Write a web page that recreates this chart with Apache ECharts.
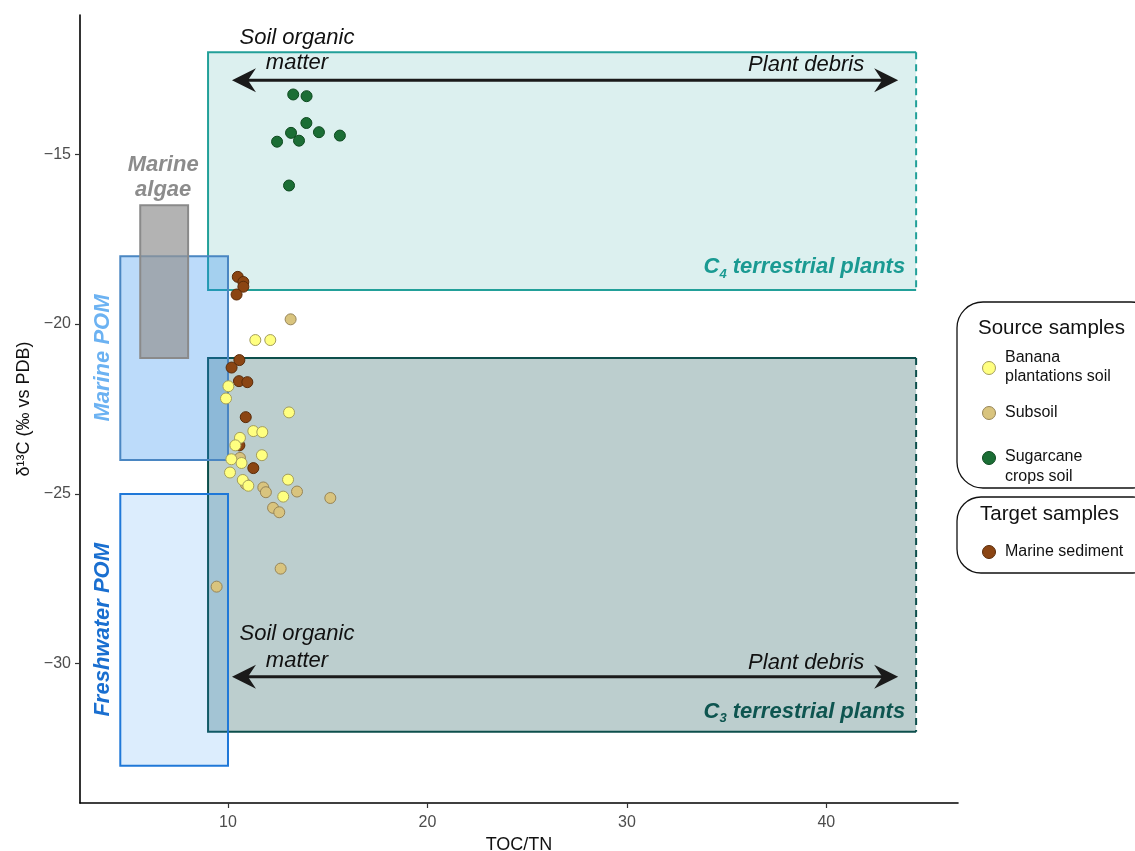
<!DOCTYPE html>
<html>
<head>
<meta charset="utf-8">
<script src="https://cdn.jsdelivr.net/npm/echarts@6/dist/echarts.min.js"></script>
<style>
html,body{margin:0;padding:0;background:#fff;}
#chart{width:1135px;height:851px;}
</style>
</head>
<body>
<div id="chart"></div>
<script>
// ---------- data ----------
const xTicks = [10, 20, 30, 40];
const yTicks = [-30, -25, -20, -15];

const bananaX = [11.37, 12.12, 10.02, 9.90, 13.06, 11.27, 11.72, 10.60, 10.37, 11.70, 10.17, 10.68, 10.10, 10.74, 11.02, 13.01, 12.77];
const bananaY = [-20.47, -20.47, -21.83, -22.19, -22.60, -23.15, -23.18, -23.35, -23.57, -23.86, -23.98, -24.09, -24.37, -24.59, -24.76, -24.58, -25.08];

const subsoilX = [13.14, 10.60, 10.89, 11.77, 11.90, 13.46, 15.13, 12.26, 12.57, 12.64, 9.43];
const subsoilY = [-19.86, -23.94, -24.71, -24.81, -24.95, -24.93, -25.12, -25.41, -25.54, -27.20, -27.73];

const sugarX = [13.27, 13.94, 13.93, 13.16, 14.56, 15.61, 12.46, 13.56, 13.06];
const sugarY = [-13.24, -13.29, -14.08, -14.37, -14.35, -14.45, -14.63, -14.60, -15.92];

const marineX = [10.49, 10.77, 10.77, 10.43, 10.57, 10.18, 10.55, 10.97, 10.89, 10.57, 11.27];
const marineY = [-18.61, -18.76, -18.90, -19.13, -21.06, -21.28, -21.68, -21.71, -22.74, -23.57, -24.24];

// source regions (TOC/TN range, d13C range)
const regionNames = ['C4 terrestrial plants', 'C3 terrestrial plants', 'Marine POM', 'Freshwater POM', 'Marine algae'];
const regionX0 = [9, 9, 4.6, 4.6, 5.6];
const regionX1 = [44.5, 44.5, 10, 10, 8];
const regionYLow = [-19, -32, -24, -33, -21];
const regionYHigh = [-12, -21, -18, -25, -16.5];

// continuum arrows (Soil organic matter -> Plant debris)
const arrowX0 = [10.2, 10.2];
const arrowX1 = [43.6, 43.6];
const arrowY = [-12.82, -30.38];

// annotation texts and their anchor values
const noteText = ['Soil organic', 'matter', 'Plant debris', 'Soil organic', 'matter', 'Plant debris',
  'Marine', 'algae', 'Marine POM', 'Freshwater POM', 'C4 terrestrial plants', 'C3 terrestrial plants'];
const noteX = [13.46, 13.46, 41.9, 13.46, 13.46, 41.9, 6.75, 6.75, 3.75, 3.75, 43.95, 43.95];
const noteY = [-11.56, -12.32, -12.38, -29.12, -29.91, -29.97, -15.32, -16.06, -21, -29, -18.32, -31.41];

// ---------- styles ----------
const regionStyles = [
  {fill: 'rgba(38,160,155,0.16)', stroke: '#22a099', dashedRight: true},
  {fill: 'rgba(15,80,80,0.28)', stroke: '#0d4f4c', dashedRight: true},
  {fill: 'rgba(40,140,240,0.31)', stroke: '#4a86c2', dashedRight: false},
  {fill: 'rgba(40,140,240,0.16)', stroke: '#1f78d8', dashedRight: false},
  {fill: 'rgba(150,150,150,0.72)', stroke: '#8a8a8a', dashedRight: false}
];
const FONT = '"Liberation Sans", Arial, Helvetica, sans-serif';
const noteStyles = [
  {color: '#111', align: 'center', weight: 'normal', rot: 0},
  {color: '#111', align: 'center', weight: 'normal', rot: 0},
  {color: '#111', align: 'right', weight: 'normal', rot: 0},
  {color: '#111', align: 'center', weight: 'normal', rot: 0},
  {color: '#111', align: 'center', weight: 'normal', rot: 0},
  {color: '#111', align: 'right', weight: 'normal', rot: 0},
  {color: '#8c8c8c', align: 'center', weight: 'bold', rot: 0},
  {color: '#8c8c8c', align: 'center', weight: 'bold', rot: 0},
  {color: '#6cb2f2', align: 'center', weight: 'bold', rot: Math.PI / 2},
  {color: '#1a6fd0', align: 'center', weight: 'bold', rot: Math.PI / 2},
  {color: '#1a9a92', align: 'right', weight: 'bold', rot: 0, sub: '4'},
  {color: '#0e5550', align: 'right', weight: 'bold', rot: 0, sub: '3'}
];

function renderRegion(params, api) {
  const i = api.value(4);
  const st = regionStyles[i];
  const tl = api.coord([api.value(0), api.value(3)]);
  const br = api.coord([api.value(1), api.value(2)]);
  const children = [{
    type: 'rect',
    shape: {x: tl[0], y: tl[1], width: br[0] - tl[0], height: br[1] - tl[1]},
    style: {fill: st.fill}
  }];
  if (st.dashedRight) {
    children.push({type: 'polyline', shape: {points: [[br[0], tl[1]], [tl[0], tl[1]], [tl[0], br[1]], [br[0], br[1]]]},
      style: {stroke: st.stroke, lineWidth: 2, fill: null}});
    children.push({type: 'line', shape: {x1: br[0], y1: tl[1], x2: br[0], y2: br[1]},
      style: {stroke: st.stroke, lineWidth: 2, lineDash: [7, 5]}});
  } else {
    children.push({type: 'rect', shape: {x: tl[0], y: tl[1], width: br[0] - tl[0], height: br[1] - tl[1]},
      style: {fill: null, stroke: st.stroke, lineWidth: 2}});
  }
  return {type: 'group', children: children};
}

function renderArrow(params, api) {
  const a = api.coord([api.value(0), api.value(2)]);
  const b = api.coord([api.value(1), api.value(2)]);
  const y = a[1];
  const L = 24, W = 12, N = 16;
  return {type: 'group', children: [
    {type: 'line', shape: {x1: a[0] + 10, y1: y, x2: b[0] - 10, y2: y}, style: {stroke: '#1a1a1a', lineWidth: 3}},
    {type: 'polygon', shape: {points: [[a[0], y], [a[0] + L, y - W], [a[0] + N, y], [a[0] + L, y + W]]}, style: {fill: '#1a1a1a'}},
    {type: 'polygon', shape: {points: [[b[0], y], [b[0] - L, y - W], [b[0] - N, y], [b[0] - L, y + W]]}, style: {fill: '#1a1a1a'}}
  ]};
}

function renderNote(params, api) {
  const i = api.value(2);
  const st = noteStyles[i];
  const p = api.coord([api.value(0), api.value(1)]);
  const style = {
    fill: st.color, align: st.align, verticalAlign: 'middle',
    fontFamily: FONT, fontStyle: 'italic', fontWeight: st.weight, fontSize: 22
  };
  if (st.sub) {
    style.text = '{m|C}{s|' + st.sub + '}{m| terrestrial plants}';
    style.rich = {
      m: {fontFamily: FONT, fontStyle: 'italic', fontWeight: 'bold', fontSize: 22, fill: st.color, lineHeight: 30, verticalAlign: 'middle'},
      s: {fontFamily: FONT, fontStyle: 'italic', fontWeight: 'bold', fontSize: 13, fill: st.color, lineHeight: 30, padding: [14, 0, 0, 0], verticalAlign: 'middle'}
    };
  } else {
    style.text = noteText[i];
  }
  return {type: 'text', x: p[0], y: p[1], rotation: st.rot, style: style};
}

const regionData = regionNames.map((n, i) => [regionX0[i], regionX1[i], regionYLow[i], regionYHigh[i], i]);
const arrowData = arrowY.map((y, i) => [arrowX0[i], arrowX1[i], y]);
const noteData = noteText.map((t, i) => [noteX[i], noteY[i], i]);
const zip = (xs, ys) => xs.map((x, i) => [x, ys[i]]);

const chart = echarts.init(document.getElementById('chart'), null, {renderer: 'canvas'});

const scatterBase = {type: 'scatter', symbol: 'circle', symbolSize: 11, z: 10};

chart.setOption({
  backgroundColor: '#ffffff',
  animation: false,
  grid: {left: 80, right: 177, top: 15, bottom: 48, containLabel: false, outerBoundsMode: 'none'},
  xAxis: {
    type: 'value', min: 2.58, max: 46.6,
    name: 'TOC/TN', nameLocation: 'middle', nameGap: 31,
    nameTextStyle: {fontFamily: FONT, fontSize: 18, color: '#111'},
    splitLine: {show: false},
    axisLine: {onZero: false, lineStyle: {color: '#000', width: 1.6}},
    axisTick: {customValues: xTicks, length: 5, lineStyle: {color: '#333', width: 1.2}},
    axisLabel: {customValues: xTicks, fontFamily: FONT, fontSize: 16, color: '#4d4d4d', margin: 12}
  },
  yAxis: {
    type: 'value', min: -34.1, max: -10.9,
    name: 'δ¹³C (‰ vs PDB)', nameLocation: 'middle', nameGap: 37, nameRotate: 90,
    nameTextStyle: {fontFamily: FONT, fontSize: 18, color: '#111'},
    splitLine: {show: false},
    axisLine: {onZero: false, lineStyle: {color: '#000', width: 1.6}},
    axisTick: {customValues: yTicks, length: 5, lineStyle: {color: '#333', width: 1.2}},
    axisLabel: {customValues: yTicks, fontFamily: FONT, fontSize: 16, color: '#4d4d4d', margin: 9,
      formatter: v => String(v).replace('-', '\u2212')}
  },
  series: [
    {type: 'custom', name: 'regions', renderItem: renderRegion, data: regionData, z: 1, silent: true,
      encode: {x: [0, 1], y: [2, 3]}},
    {type: 'custom', name: 'arrows', renderItem: renderArrow, data: arrowData, z: 3, silent: true,
      encode: {x: [0, 1], y: 2}},
    {type: 'custom', name: 'notes', renderItem: renderNote, data: noteData, z: 4, silent: true,
      encode: {x: 0, y: 1}},
    Object.assign({}, scatterBase, {name: 'Sugarcane crops soil', data: zip(sugarX, sugarY),
      itemStyle: {color: '#1b6e35', borderColor: '#0e4a20', borderWidth: 1, opacity: 1}}),
    Object.assign({}, scatterBase, {name: 'Marine sediment', data: zip(marineX, marineY),
      itemStyle: {color: '#8b4513', borderColor: '#5a2c0a', borderWidth: 1, opacity: 1}}),
    Object.assign({}, scatterBase, {name: 'Subsoil', data: zip(subsoilX, subsoilY),
      itemStyle: {color: '#d9c47e', borderColor: '#978558', borderWidth: 1, opacity: 1}}),
    Object.assign({}, scatterBase, {name: 'Banana plantations soil', data: zip(bananaX, bananaY),
      itemStyle: {color: '#ffff80', borderColor: '#a49e5c', borderWidth: 1, opacity: 1}})
  ],
  graphic: [
    {type: 'rect', shape: {x: 957, y: 302, width: 200, height: 186, r: 26}, style: {fill: '#fff', stroke: '#111', lineWidth: 1.3}},
    {type: 'text', x: 978, y: 328, style: {text: 'Source samples', fontFamily: FONT, fontSize: 20.5, fill: '#111', verticalAlign: 'middle'}},
    {type: 'circle', shape: {cx: 989, cy: 368, r: 6.5}, style: {fill: '#ffff80', stroke: '#a49e5c', lineWidth: 1}},
    {type: 'text', x: 1005, y: 358, style: {text: 'Banana', fontFamily: FONT, fontSize: 16, fill: '#111', verticalAlign: 'middle'}},
    {type: 'text', x: 1005, y: 377, style: {text: 'plantations soil', fontFamily: FONT, fontSize: 16, fill: '#111', verticalAlign: 'middle'}},
    {type: 'circle', shape: {cx: 989, cy: 413, r: 6.5}, style: {fill: '#d9c47e', stroke: '#978558', lineWidth: 1}},
    {type: 'text', x: 1005, y: 413, style: {text: 'Subsoil', fontFamily: FONT, fontSize: 16, fill: '#111', verticalAlign: 'middle'}},
    {type: 'circle', shape: {cx: 989, cy: 458, r: 6.5}, style: {fill: '#1b6e35', stroke: '#0e4a20', lineWidth: 1}},
    {type: 'text', x: 1005, y: 457, style: {text: 'Sugarcane', fontFamily: FONT, fontSize: 16, fill: '#111', verticalAlign: 'middle'}},
    {type: 'text', x: 1005, y: 477, style: {text: 'crops soil', fontFamily: FONT, fontSize: 16, fill: '#111', verticalAlign: 'middle'}},
    {type: 'rect', shape: {x: 957, y: 497, width: 200, height: 76, r: 24}, style: {fill: '#fff', stroke: '#111', lineWidth: 1.3}},
    {type: 'text', x: 980, y: 514, style: {text: 'Target samples', fontFamily: FONT, fontSize: 20.5, fill: '#111', verticalAlign: 'middle'}},
    {type: 'circle', shape: {cx: 989, cy: 552, r: 6.5}, style: {fill: '#8b4513', stroke: '#5a2c0a', lineWidth: 1}},
    {type: 'text', x: 1005, y: 552, style: {text: 'Marine sediment', fontFamily: FONT, fontSize: 16, fill: '#111', verticalAlign: 'middle'}}
  ]
});
</script>
</body>
</html>
